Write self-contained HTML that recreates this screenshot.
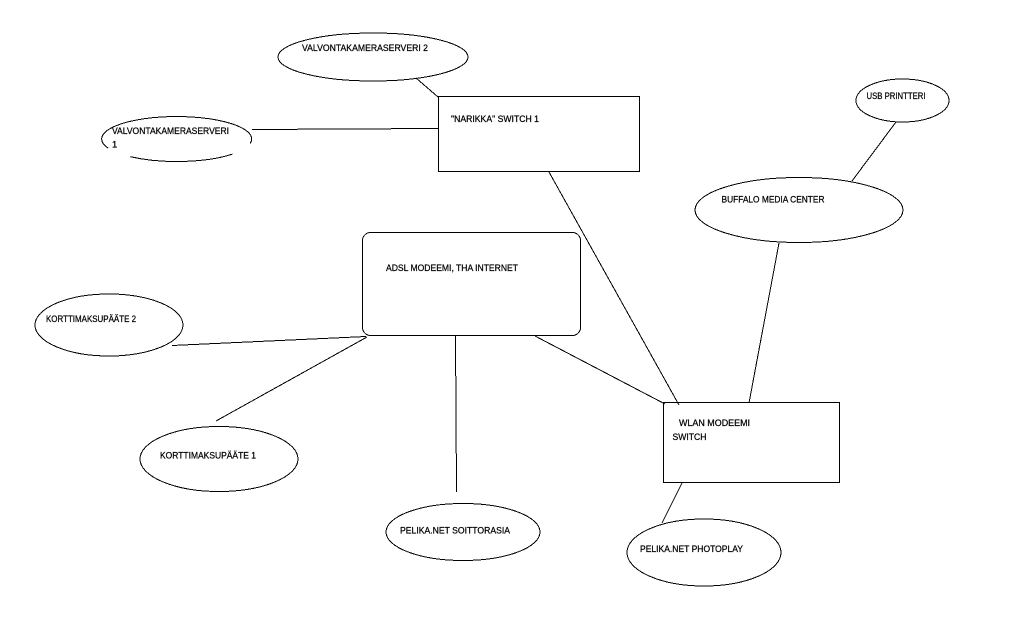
<!DOCTYPE html>
<html>
<head>
<meta charset="utf-8">
<style>
  html, body { margin: 0; padding: 0; background: #fff; }
  body { width: 1022px; height: 626px; overflow: hidden; }
  svg { display: block; }
  text { font-family: "Liberation Sans", "DejaVu Sans", sans-serif; font-size: 9.5px; fill: #000; stroke: #000; stroke-width: 0.25px; }
</style>
</head>
<body>
<svg width="1022" height="626" viewBox="0 0 1022 626" xmlns="http://www.w3.org/2000/svg">
  <rect x="0" y="0" width="1022" height="626" fill="#fff"/>
  <g stroke="#000" stroke-width="1" fill="none" shape-rendering="crispEdges">
    <!-- connectors -->
    <line x1="416" y1="78" x2="438" y2="97"/>
    <line x1="252" y1="129.5" x2="438" y2="128.5"/>
    <line x1="549" y1="172" x2="679" y2="405"/>
    <line x1="172" y1="345.5" x2="366" y2="336.5"/>
    <line x1="216" y1="421" x2="367" y2="337"/>
    <line x1="455.5" y1="336" x2="456.5" y2="492"/>
    <line x1="535" y1="336" x2="665" y2="404"/>
    <line x1="779" y1="243" x2="749" y2="403"/>
    <line x1="682" y1="483" x2="662" y2="523"/>
    <line x1="896" y1="122" x2="852" y2="181"/>

    <!-- boxes -->
    <rect x="438.5" y="96.5" width="201" height="75"/>
    <rect x="362.5" y="232.5" width="218" height="103" rx="8" ry="8"/>
    <rect x="663.5" y="402.5" width="176" height="80"/>

    <!-- ellipses -->
    <ellipse cx="373" cy="57" rx="95" ry="24"/>
    <path d="M130.5,156.7 A75,22.5 0 0 0 232.4,154.1"/>
    <path d="M250.3,143.3 A75,22.5 0 1 0 108.2,148.2"/>
    <ellipse cx="109" cy="325" rx="74" ry="31"/>
    <ellipse cx="219" cy="459" rx="79" ry="32.5"/>
    <ellipse cx="463" cy="532" rx="77" ry="28.5"/>
    <ellipse cx="704" cy="552.5" rx="77" ry="33.5"/>
    <ellipse cx="799" cy="210" rx="104" ry="32.5"/>
    <ellipse cx="902.5" cy="100.5" rx="46.5" ry="21.5"/>
  </g>

  <!-- labels -->
  <text x="302" y="51" textLength="126" lengthAdjust="spacingAndGlyphs">VALVONTAKAMERASERVERI 2</text>
  <text x="112" y="134" textLength="117" lengthAdjust="spacingAndGlyphs">VALVONTAKAMERASERVERI</text>
  <text x="112" y="147.5">1</text>
  <text x="451" y="122" textLength="88" lengthAdjust="spacingAndGlyphs">"NARIKKA" SWITCH 1</text>
  <text x="386" y="271" textLength="132" lengthAdjust="spacingAndGlyphs">ADSL MODEEMI, THA INTERNET</text>
  <text x="46" y="322" textLength="90" lengthAdjust="spacingAndGlyphs">KORTTIMAKSUPÄÄTE 2</text>
  <text x="160" y="458.5" textLength="96" lengthAdjust="spacingAndGlyphs">KORTTIMAKSUPÄÄTE 1</text>
  <text x="400" y="533.5" textLength="110" lengthAdjust="spacingAndGlyphs">PELIKA.NET SOITTORASIA</text>
  <text x="679" y="426" textLength="71" lengthAdjust="spacingAndGlyphs">WLAN MODEEMI</text>
  <text x="672.5" y="440" textLength="34" lengthAdjust="spacingAndGlyphs">SWITCH</text>
  <text x="640" y="552" textLength="103" lengthAdjust="spacingAndGlyphs">PELIKA.NET PHOTOPLAY</text>
  <text x="721.5" y="202.5" textLength="103" lengthAdjust="spacingAndGlyphs">BUFFALO MEDIA CENTER</text>
  <text x="866.5" y="99" textLength="59" lengthAdjust="spacingAndGlyphs">USB PRINTTERI</text>
</svg>
</body>
</html>
